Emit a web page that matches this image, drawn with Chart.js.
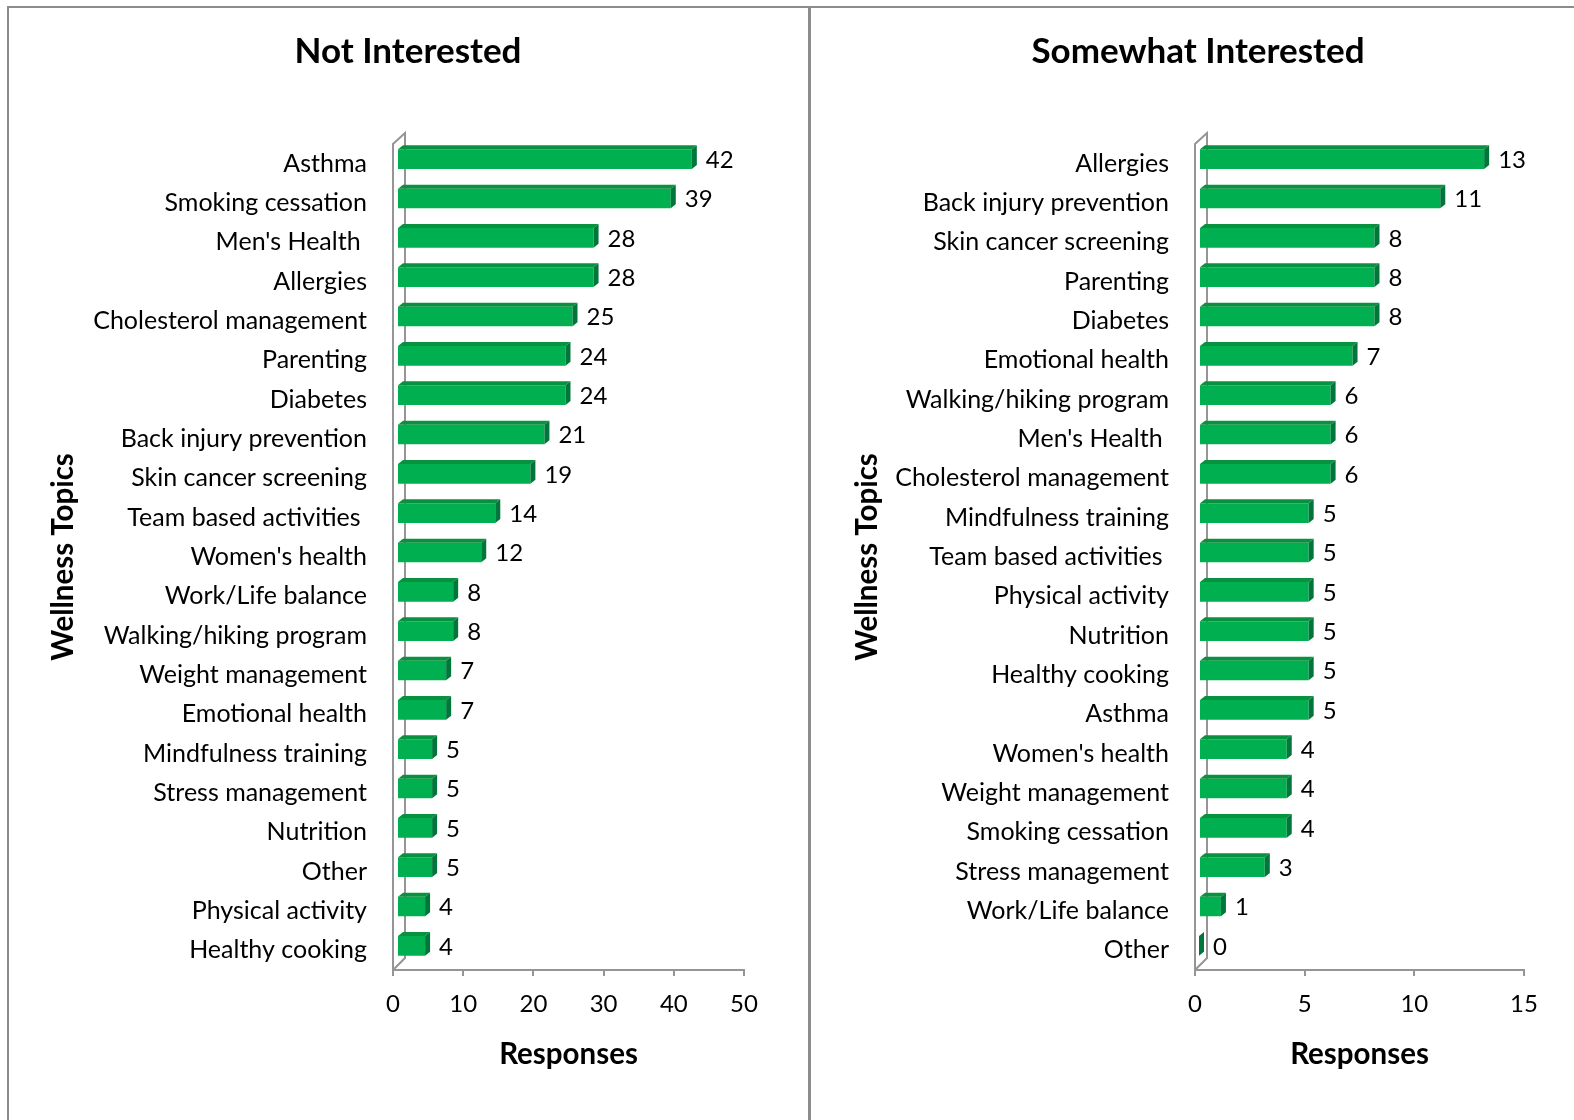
<!DOCTYPE html>
<html>
<head>
<meta charset="utf-8">
<script src="https://cdn.jsdelivr.net/npm/chart.js@4.4.1/dist/chart.umd.min.js"></script>
<style>
  html, body { margin: 0; padding: 0; background: #fff; }
  body { width: 1574px; height: 1120px; position: relative; overflow: hidden; }
  .frame { position: absolute; left: 7px; top: 6px; width: 1600px; height: 1200px;
           border-left: 2px solid #8c8c8c; border-top: 2px solid #8c8c8c; }
  .divider { position: absolute; left: 808px; top: 6px; width: 3px; height: 1120px; background: #8c8c8c; }
  #left { position: absolute; left: 9px; top: 8px; }
  #right { position: absolute; left: 811px; top: 8px; }
</style>
</head>
<body>
<div class="frame"></div>
<div class="divider"></div>
<canvas id="left" width="799" height="1112"></canvas>
<canvas id="right" width="763" height="1112"></canvas>
<script>
const FRONT = '#00b050';
const TOP = '#08923f';
const SIDE = '#00763a';
const FRAME = '#959595';
const FONT = 'Lato, "Open Sans", sans-serif';

// Not Interested
const notTopics = [
  'Asthma', 'Smoking cessation', "Men's Health ", 'Allergies', 'Cholesterol management',
  'Parenting', 'Diabetes', 'Back injury prevention', 'Skin cancer screening',
  'Team based activities ', "Women's health", 'Work/Life balance', 'Walking/hiking program',
  'Weight management', 'Emotional health', 'Mindfulness training', 'Stress management',
  'Nutrition', 'Other', 'Physical activity', 'Healthy cooking',
];
const notCounts = [42, 39, 28, 28, 25, 24, 24, 21, 19, 14, 12, 8, 8, 7, 7, 5, 5, 5, 5, 4, 4];
const notTicks = [0, 10, 20, 30, 40, 50];

// Somewhat Interested
const someTopics = [
  'Allergies', 'Back injury prevention', 'Skin cancer screening', 'Parenting', 'Diabetes',
  'Emotional health', 'Walking/hiking program', "Men's Health ", 'Cholesterol management',
  'Mindfulness training', 'Team based activities ', 'Physical activity', 'Nutrition',
  'Healthy cooking', 'Asthma', "Women's health", 'Weight management', 'Smoking cessation',
  'Stress management', 'Work/Life balance', 'Other',
];
const someCounts = [13, 11, 8, 8, 8, 7, 6, 6, 6, 5, 5, 5, 5, 5, 5, 4, 4, 4, 3, 1, 0];
const someTicks = [0, 5, 10, 15];

const DEPTH = 5;                  // bar depth in px
const SHIFT = { x: 4, y: -4.5 };  // bars sit behind the front floor edge

// 3D wall/floor frame, bar faces, value labels and the panel heading
const bars3d = {
  id: 'bars3d',
  beforeDatasetsDraw(chart) {
    const { ctx, chartArea: a } = chart;
    ctx.save();
    ctx.strokeStyle = FRAME;
    ctx.lineWidth = 2;
    ctx.beginPath();
    ctx.moveTo(a.left, a.bottom);
    ctx.lineTo(a.left, a.top);
    ctx.lineTo(a.left + 12, a.top - 11);
    ctx.lineTo(a.left + 12, a.bottom - 12);
    ctx.lineTo(a.left, a.bottom);
    ctx.stroke();
    ctx.restore();
    ctx.save();
    ctx.translate(SHIFT.x, SHIFT.y);
  },
  afterDatasetsDraw(chart) {
    const { ctx } = chart;
    const meta = chart.getDatasetMeta(0);
    const values = chart.data.datasets[0].data;
    meta.data.forEach((bar, i) => {
      const { x, y, base, height } = bar.getProps(['x', 'y', 'base', 'height'], true);
      const t = y - height / 2;
      const b = y + height / 2;
      const d = DEPTH;
      ctx.fillStyle = TOP;
      ctx.beginPath();
      ctx.moveTo(base, t);
      ctx.lineTo(base + d, t - d + 1);
      ctx.lineTo(x + d, t - d + 1);
      ctx.lineTo(x, t);
      ctx.closePath();
      ctx.fill();
      ctx.fillStyle = SIDE;
      ctx.beginPath();
      ctx.moveTo(x, t);
      ctx.lineTo(x + d, t - d + 1);
      ctx.lineTo(x + d, b - d + 1);
      ctx.lineTo(x, b);
      ctx.closePath();
      ctx.fill();

      ctx.fillStyle = '#000';
      ctx.font = `24px ${FONT}`;
      ctx.textAlign = 'left';
      ctx.textBaseline = 'middle';
      ctx.fillText(String(values[i]), x + d + 9, y + 1);
    });
    ctx.restore();
  },
  afterDraw(chart, args, opts) {
    const { ctx } = chart;
    ctx.save();
    ctx.fillStyle = '#000';
    ctx.font = `bold 35px ${FONT}`;
    ctx.textAlign = 'center';
    ctx.textBaseline = 'middle';
    ctx.fillText(opts.text, opts.x, 44);
    ctx.restore();
  },
};

function makePanel(id, p) {
  const max = p.ticks[p.ticks.length - 1];
  const step = p.ticks[1] - p.ticks[0];
  return new Chart(document.getElementById(id), {
    type: 'bar',
    data: {
      labels: p.topics,
      datasets: [{
        data: p.counts,
        backgroundColor: FRONT,
        borderWidth: 0,
        barPercentage: 0.5,
        categoryPercentage: 1,
      }],
    },
    plugins: [bars3d],
    options: {
      indexAxis: 'y',
      responsive: false,
      animation: false,
      events: [],
      layout: { padding: { left: 36, right: p.padRight, top: 136, bottom: 48 } },
      scales: {
        x: {
          min: 0,
          max,
          ticks: {
            stepSize: step,
            color: '#000',
            padding: 14,
            font: { family: FONT, size: 24 },
          },
          grid: {
            drawOnChartArea: false,
            drawTicks: true,
            tickLength: 6,
            color: FRAME,
            lineWidth: 2,
          },
          border: { display: true, color: FRAME, width: 2 },
          title: {
            display: true,
            text: 'Responses',
            color: '#000',
            padding: 0,
            font: { family: FONT, size: 29.5, weight: 'bold' },
          },
          afterFit: (s) => { s.height = 102; },
        },
        y: {
          grid: { display: false, drawTicks: false },
          border: { display: false },
          ticks: {
            color: '#000',
            padding: 26,
            autoSkip: false,
            font: { family: FONT, size: 25 },
          },
          title: {
            display: true,
            text: 'Wellness Topics',
            color: '#000',
            padding: { top: p.yTitlePad, bottom: 0 },
            font: { family: FONT, size: 29.5, weight: 'bold' },
          },
          afterFit: (s) => { s.width = 348; },
        },
      },
      plugins: {
        legend: { display: false },
        tooltip: { enabled: false },
        title: { display: false },
        bars3d: { text: p.title, x: p.titleX },
      },
    },
  });
}

makePanel('left', {
  title: 'Not Interested', topics: notTopics, counts: notCounts, ticks: notTicks,
  padRight: 64, yTitlePad: 1, titleX: 399,
});
makePanel('right', {
  title: 'Somewhat Interested', topics: someTopics, counts: someCounts, ticks: someTicks,
  padRight: 50, yTitlePad: 3, titleX: 387,
});
</script>
</body>
</html>
